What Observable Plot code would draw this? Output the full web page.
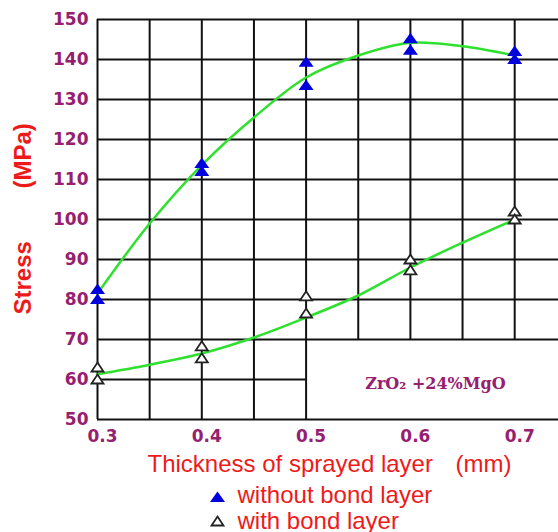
<!DOCTYPE html>
<html><head><meta charset="utf-8">
<script src="https://cdn.jsdelivr.net/npm/d3@7"></script>
<script src="https://cdn.jsdelivr.net/npm/@observablehq/plot@0.6"></script>
<style>body{margin:0;background:#fff;}</style>
</head><body><div id="chart"></div>
<script>
// measured points (two readings at each thickness)
const thickness = [0.3, 0.4, 0.5, 0.6, 0.7];
const withoutBondHigh = [82.5, 114, 139.3, 145.2, 142];
const withoutBondLow  = [80, 112, 133.5, 142.3, 140];
const withBondHigh = [63, 68.3, 80.8, 90, 102];
const withBondLow  = [60, 65.3, 76.5, 87.3, 100];
// fitted curves
const fitX = [0.3, 0.35, 0.4, 0.45, 0.5, 0.55, 0.6, 0.65, 0.7];
const fitWithout = [81.5, 99, 113.6, 125.5, 135.5, 141, 144.2, 143.3, 141];
const fitWith = [61.3, 63.7, 66.5, 70.5, 75.5, 81, 88, 94.2, 100];
// ticks / grid
const xTicks = [0.3, 0.4, 0.5, 0.6, 0.7];
const yTicks = [50, 60, 70, 80, 90, 100, 110, 120, 130, 140, 150];
const gridXFull = [0.3, 0.35, 0.4, 0.45, 0.5];
const gridXUpper = [0.55, 0.6, 0.65, 0.7];
const gridYFull = [50, 70, 80, 90, 100, 110, 120, 130, 140, 150];
const gridYLeft = [60];
const legendLabels = ["without bond layer", "with bond layer"];
const annotation = "ZrO₂ +24%MgO";

const RED = "#ee1a1a", PURPLE = "#962070", GREEN = "#2fe02f", BLUE = "#0000dd";
const triFilled = {draw(c){c.moveTo(0,-6);c.lineTo(7.5,4.5);c.lineTo(-7.5,4.5);c.closePath();}};
const triOpen = {draw(c){c.moveTo(0,-5);c.lineTo(6,4);c.lineTo(-6,4);c.closePath();}};

const pts = (xs, ys) => xs.map((x, i) => ({x, y: ys[i]}));
const grid = {stroke: "#111", strokeWidth: 2};
const txt = {fontFamily: "Liberation Sans", fontWeight: "normal", fontSize: 24, fill: RED};

const plot = Plot.plot({
  width: 558, height: 532,
  marginLeft: 97, marginRight: 0, marginTop: 19, marginBottom: 113,
  x: {domain: [0.3, 0.742], label: null},
  y: {domain: [50, 150], label: null},
  style: {fontFamily: "DejaVu Sans", fontSize: "17px", fontWeight: "bold", color: PURPLE, background: "#fff", overflow: "visible"},
  marks: [
    Plot.ruleX(gridXFull, {y1: 50, y2: 150, ...grid}),
    Plot.ruleX(gridXUpper, {y1: 70, y2: 150, ...grid}),
    Plot.ruleY(gridYFull, grid),
    Plot.ruleY(gridYLeft, {x1: 0.3, x2: 0.5, ...grid}),
    Plot.line(pts(fitX, fitWithout), {x: "x", y: "y", curve: "catmull-rom", stroke: GREEN, strokeWidth: 2.5}),
    Plot.line(pts(fitX, fitWith), {x: "x", y: "y", curve: "catmull-rom", stroke: GREEN, strokeWidth: 2.5}),
    Plot.dot(pts(thickness, withoutBondHigh).concat(pts(thickness, withoutBondLow)), {x: "x", y: "y", symbol: triFilled, fill: BLUE, stroke: "none"}),
    Plot.dot(pts(thickness, withBondHigh).concat(pts(thickness, withBondLow)), {x: "x", y: "y", symbol: triOpen, fill: "#fff", stroke: "#222", strokeWidth: 1.8}),
    Plot.axisY(yTicks, {tickSize: 0, tickPadding: 9, label: null}),
    Plot.axisX(xTicks, {tickSize: 0, tickPadding: 10, dx: 5, label: null, tickFormat: d => d.toFixed(1)}),
    Plot.text([annotation], {x: () => 0.624, y: () => 59, text: d => d, fontFamily: "DejaVu Serif", fontWeight: "bold", fontSize: 16, fill: PURPLE}),
    Plot.text(["Stress"], {frameAnchor: "left", dx: -74, dy: 95, rotate: -90, text: d => d, ...txt, fontWeight: "bold", fontSize: 24}),
    Plot.text(["(MPa)"], {frameAnchor: "left", dx: -74, dy: -31, rotate: -90, text: d => d, ...txt, fontWeight: "bold", fontSize: 24}),
    Plot.text(["Thickness of sprayed layer"], {frameAnchor: "bottom-left", textAnchor: "start", dx: 50, dy: 52, text: d => d, ...txt}),
    Plot.text(["(mm)"], {frameAnchor: "bottom-left", textAnchor: "start", dx: 358, dy: 52, text: d => d, ...txt}),
    Plot.dot([0], {frameAnchor: "bottom-left", dx: 120, dy: 78, symbol: triFilled, fill: BLUE, stroke: "none"}),
    Plot.dot([0], {frameAnchor: "bottom-left", dx: 120, dy: 102, symbol: triOpen, fill: "#fff", stroke: "#222", strokeWidth: 1.8}),
    Plot.text([legendLabels[0]], {frameAnchor: "bottom-left", textAnchor: "start", dx: 140, dy: 83, text: d => d, ...txt}),
    Plot.text([legendLabels[1]], {frameAnchor: "bottom-left", textAnchor: "start", dx: 140, dy: 109, text: d => d, ...txt})
  ]
});
document.getElementById("chart").append(plot);
</script>
</body></html>
